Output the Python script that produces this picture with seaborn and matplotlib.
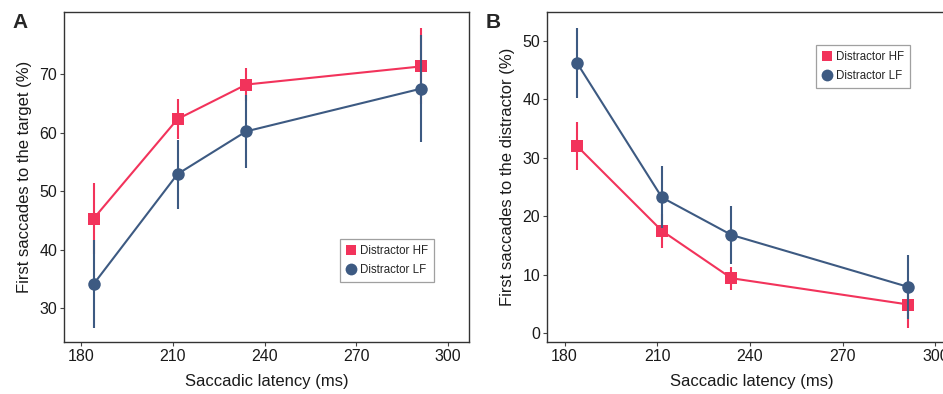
import matplotlib
matplotlib.use('Agg')
import matplotlib.pyplot as plt
from matplotlib.lines import Line2D
import seaborn as sns
import pandas as pd
import numpy as np

# saccadic latency bins (ms)
latency = [184, 211.5, 234, 291.3]

# panel A: first saccades to the target (%)
target_hf = [45.3, 62.3, 68.2, 71.3]
target_hf_err = [6.0, 3.4, 2.8, 6.5]
target_lf = [34.1, 52.9, 60.2, 67.5]
target_lf_err = [7.5, 5.9, 6.3, 9.2]

# panel B: first saccades to the distractor (%)
distr_hf = [32.0, 17.5, 9.4, 4.9]
distr_hf_err = [4.1, 2.9, 2.0, 4.0]
distr_lf = [46.2, 23.2, 16.8, 7.9]
distr_lf_err = [6.0, 5.3, 5.0, 5.4]

conditions = ['Distractor HF', 'Distractor LF']
colors = {'Distractor HF': '#F2335B', 'Distractor LF': '#3D5A82'}
markers = {'Distractor HF': 's', 'Distractor LF': 'o'}
msizes = {'Distractor HF': 8, 'Distractor LF': 9}


def make_df(hf, hf_err, lf, lf_err):
    rows = []
    for cond, vals, errs in zip(conditions, (hf, lf), (hf_err, lf_err)):
        for x, v, e in zip(latency, vals, errs):
            rows.append(dict(latency=x, pct=v, err=e, condition=cond))
    return pd.DataFrame(rows)


df_a = make_df(target_hf, target_hf_err, target_lf, target_lf_err)
df_b = make_df(distr_hf, distr_hf_err, distr_lf, distr_lf_err)

sns.set_theme(style='white')
plt.rcParams['font.family'] = ['Liberation Sans', 'DejaVu Sans']

W, H = 943, 394
fig = plt.figure(figsize=(W / 100, H / 100), dpi=100)
ax_a = fig.add_axes([64 / W, 1 - 342 / H, 405 / W, 330 / H])
ax_b = fig.add_axes([547 / W, 1 - 342 / H, 410 / W, 330 / H])


def draw_panel(ax, df, ylim, yticks, ylabel, legend_loc):
    z = 2
    for cond in conditions:
        d = df[df.condition == cond]
        ax.vlines(d.latency, d.pct - d.err, d.pct + d.err, color=colors[cond], lw=1.5, zorder=z)
        sns.lineplot(data=d, x='latency', y='pct', ax=ax, color=colors[cond], lw=1.5,
                     marker=markers[cond], markersize=msizes[cond], markeredgewidth=0,
                     errorbar=None, zorder=z + 1)
        z += 2
    ax.set_xlim(174.3, 307)
    ax.set_ylim(*ylim)
    ax.set_xticks([180, 210, 240, 270, 300])
    ax.set_yticks(yticks)
    ax.tick_params(axis='both', which='major', labelsize=11.5, length=3, width=0.8,
                   color='#444444', labelcolor='#1a1a1a', pad=2, left=True, bottom=True)
    ax.set_xlabel('Saccadic latency (ms)', fontsize=12, color='#1a1a1a', labelpad=7)
    ax.set_ylabel(ylabel, fontsize=12, color='#1a1a1a', labelpad=5)
    for s in ax.spines.values():
        s.set_color('#333333')
        s.set_linewidth(1.0)
    handles = [Line2D([], [], ls='none', marker=markers[c], color=colors[c],
                      markersize=msizes[c] - 0.5, markeredgewidth=0) for c in conditions]
    leg = ax.legend(handles, conditions, loc='upper left', bbox_to_anchor=legend_loc,
                    fontsize=8.3, frameon=True, fancybox=False, handlelength=0.8,
                    handletextpad=0.35, borderpad=0.55, labelspacing=0.55, borderaxespad=0)
    leg.get_frame().set_edgecolor('#888888')
    leg.get_frame().set_linewidth(0.9)


draw_panel(ax_a, df_a, (24.2, 80.6), [30, 40, 50, 60, 70],
           'First saccades to the target (%)', ((340 - 64) / 405, (342 - 239) / 330))
draw_panel(ax_b, df_b, (-1.5, 54.9), [0, 10, 20, 30, 40, 50],
           'First saccades to the distractor (%)', ((816 - 547) / 410, (342 - 45) / 330))

fig.text(12 / W, 1 - 22 / H, 'A', fontsize=15, fontweight='bold', va='center')
fig.text(486 / W, 1 - 22 / H, 'B', fontsize=15, fontweight='bold', va='center')

fig.savefig('out.png', dpi=100)
